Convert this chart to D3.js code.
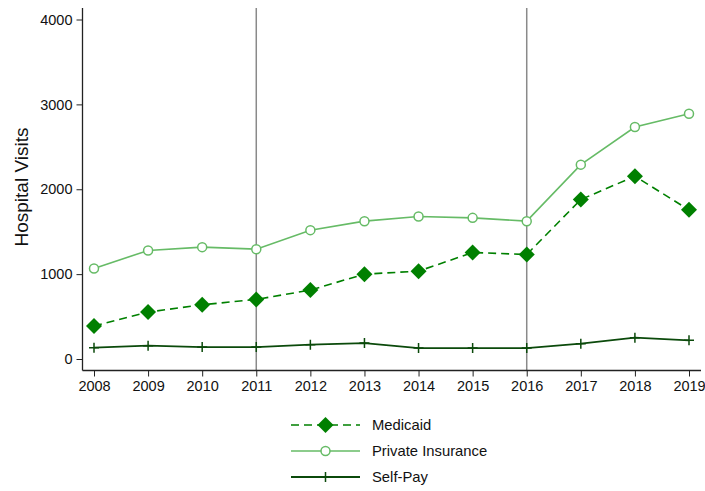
<!DOCTYPE html>
<html>
<head>
<meta charset="utf-8">
<script src="https://cdn.jsdelivr.net/npm/d3@7"></script>
<style>
  body { margin: 0; background: #fff; }
  svg { display: block; font-family: "Liberation Sans", Arial, Helvetica, sans-serif; }
</style>
</head>
<body>
<svg id="chart" width="705" height="491"></svg>
<script>
// Hospital visits by payer, 2008–2019
const years = [2008, 2009, 2010, 2011, 2012, 2013, 2014, 2015, 2016, 2017, 2018, 2019];
const medicaid = [388, 553, 639, 702, 812, 1000, 1035, 1255, 1231, 1879, 2153, 1757];
const privateInsurance = [1067, 1279, 1318, 1294, 1518, 1624, 1679, 1663, 1624, 2290, 2733, 2890];
const selfPay = [133, 157, 141, 141, 169, 188, 129, 129, 129, 180, 251, 220];
const yTicks = [0, 1000, 2000, 3000, 4000];
const refYears = [2011, 2016];

const svg = d3.select("#chart");
const x = d3.scaleLinear().domain([2008, 2019]).range([94, 689]);
const y = d3.scaleLinear().domain([0, 4000]).range([359, 19.5]);
const axisLeftX = 82.5, axisBottomY = 370.5, plotTop = 8;

const series = [
  { name: "Medicaid", values: medicaid, color: "#008000", width: 1.6, dash: "8,5", marker: "diamond" },
  { name: "Private Insurance", values: privateInsurance, color: "#66bb66", width: 1.6, dash: null, marker: "circle" },
  { name: "Self-Pay", values: selfPay, color: "#0b4a0b", width: 1.8, dash: null, marker: "plus" }
];

// reference lines
svg.selectAll("line.ref").data(refYears).join("line")
  .attr("class", "ref")
  .attr("x1", d => x(d)).attr("x2", d => x(d))
  .attr("y1", plotTop).attr("y2", axisBottomY)
  .attr("stroke", "#8a8a8a").attr("stroke-width", 1.5);

// axes
const yAxis = d3.axisLeft(y).tickValues(yTicks).tickSize(6).tickPadding(4).tickFormat(d3.format("d"));
const gy = svg.append("g").attr("transform", `translate(${axisLeftX},0)`).call(yAxis);
gy.select(".domain").attr("d", `M0,${plotTop}V${axisBottomY}`).attr("stroke", "#222").attr("stroke-width", 1.3);

const xAxis = d3.axisBottom(x).tickValues(years).tickSize(6).tickPadding(4).tickFormat(d3.format("d"));
const gx = svg.append("g").attr("transform", `translate(0,${axisBottomY})`).call(xAxis);
gx.select(".domain").attr("d", `M${axisLeftX},0H${x(2019) + 12}`).attr("stroke", "#222").attr("stroke-width", 1.3);

svg.selectAll(".tick line").attr("stroke", "#222");
svg.selectAll(".tick text").attr("font-size", 14.5).attr("fill", "#111")
  .attr("font-family", "'Liberation Sans', Arial, sans-serif");

// y title
svg.append("text")
  .attr("transform", "translate(28,187) rotate(-90)")
  .attr("text-anchor", "middle")
  .attr("font-size", 19).attr("fill", "#111")
  .text("Hospital Visits");

// markers
function drawMarker(g, type, color, cx, cy) {
  if (type === "diamond") {
    g.append("path").attr("d", `M${cx},${cy - 8}L${cx + 8},${cy}L${cx},${cy + 8}L${cx - 8},${cy}Z`).attr("fill", color);
  } else if (type === "circle") {
    g.append("circle").attr("cx", cx).attr("cy", cy).attr("r", 4.5)
      .attr("fill", "#fff").attr("stroke", color).attr("stroke-width", 1.5);
  } else {
    g.append("path").attr("d", `M${cx - 5},${cy}H${cx + 5}M${cx},${cy - 5}V${cy + 5}`)
      .attr("stroke", color).attr("stroke-width", 1.5).attr("fill", "none");
  }
}

const line = d3.line().x((d, i) => x(years[i])).y(d => y(d));

series.forEach(s => {
  const g = svg.append("g");
  g.append("path").datum(s.values).attr("d", line)
    .attr("fill", "none").attr("stroke", s.color).attr("stroke-width", s.width)
    .attr("stroke-dasharray", s.dash);
  s.values.forEach((v, i) => drawMarker(g, s.marker, s.color, x(years[i]), y(v)));
});

// legend
const legendY = [425, 451, 477];
series.forEach((s, i) => {
  const g = svg.append("g");
  const ly = legendY[i];
  g.append("line").attr("x1", 291).attr("x2", 360).attr("y1", ly).attr("y2", ly)
    .attr("stroke", s.color).attr("stroke-width", s.width).attr("stroke-dasharray", s.dash);
  drawMarker(g, s.marker, s.color, 325.5, ly);
  g.append("text").attr("x", 372).attr("y", ly + 5).attr("font-size", 14.8).attr("fill", "#111").text(s.name);
});
</script>
</body>
</html>
